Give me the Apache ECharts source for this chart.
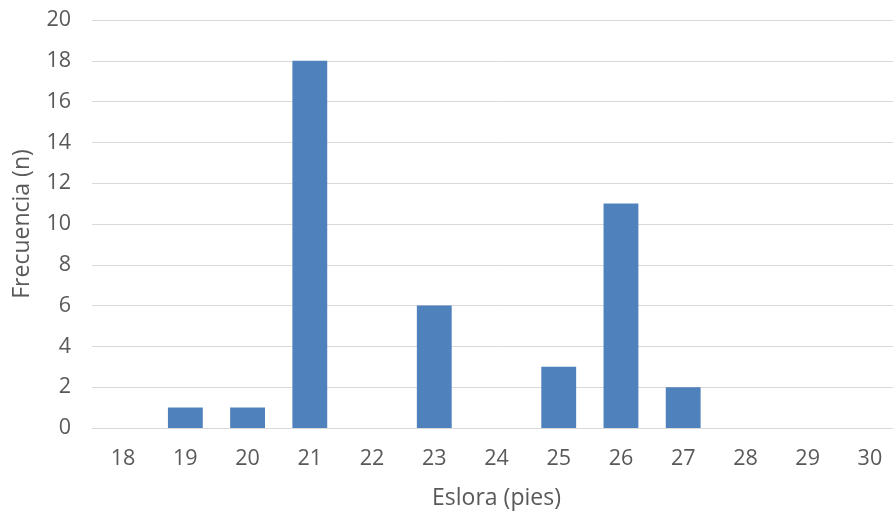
<!DOCTYPE html>
<html>
<head>
<meta charset="utf-8">
<script src="https://cdn.jsdelivr.net/npm/echarts@6/dist/echarts.min.js"></script>
<style>
  html, body { margin: 0; padding: 0; background: #fff; overflow: hidden; }
  /* the plot runs slightly past the right edge of the window */
  #chart { width: 901px; height: 513px; }
</style>
</head>
<body>
<div id="chart"></div>
<script>
// Boat length classes (feet) and how many boats fall in each
const categories = ['18', '19', '20', '21', '22', '23', '24', '25', '26', '27', '28', '29', '30'];
const frequencies = [0, 1, 1, 18, 0, 6, 0, 3, 11, 2, 0, 0, 0];
const yTicks = { min: 0, max: 20, interval: 2 };

const textColor = '#595959';
const fontFamily = '"Open Sans", sans-serif';

const chart = echarts.init(document.getElementById('chart'));
chart.setOption({
  animation: false,
  grid: { left: 92, right: 0, top: 20, bottom: 85, containLabel: false, outerBoundsMode: 'none' },
  xAxis: {
    type: 'category',
    data: categories,
    name: 'Eslora (pies)',
    nameLocation: 'middle',
    nameGap: 59,
    nameTextStyle: { color: textColor, fontSize: 23, fontFamily },
    axisLine: { lineStyle: { color: '#D9D9D9', width: 1 } },
    axisTick: { show: false },
    axisLabel: { color: textColor, fontSize: 21.5, fontFamily, margin: 20 }
  },
  yAxis: {
    type: 'value',
    min: yTicks.min,
    max: yTicks.max,
    interval: yTicks.interval,
    name: 'Frecuencia (n)',
    nameLocation: 'middle',
    nameGap: 58,
    nameTextStyle: { color: textColor, fontSize: 23, fontFamily },
    axisLine: { show: false },
    axisTick: { show: false },
    splitLine: { lineStyle: { color: '#D9D9D9', width: 1 } },
    axisLabel: { color: textColor, fontSize: 21.5, fontFamily, margin: 21 }
  },
  series: [{
    type: 'bar',
    data: frequencies,
    barWidth: '56%',
    itemStyle: { color: '#4F81BD' }
  }]
});
</script>
</body>
</html>
